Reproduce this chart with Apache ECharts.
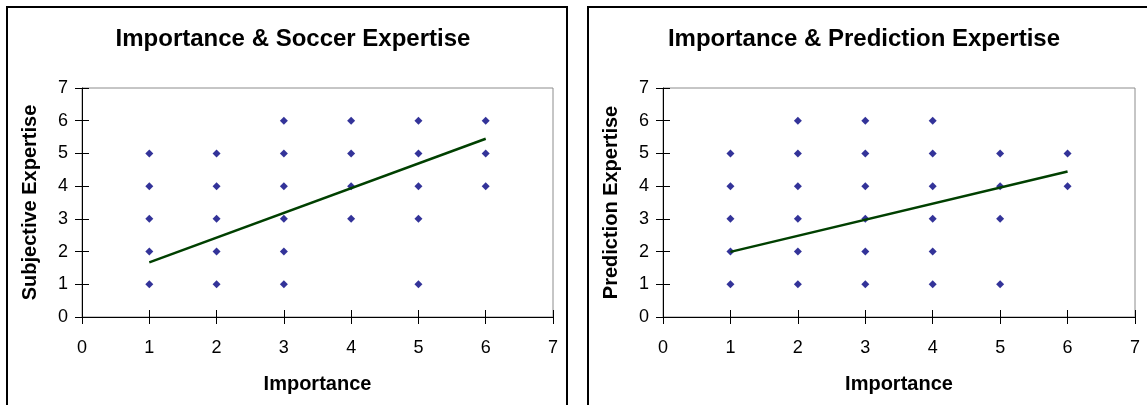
<!DOCTYPE html>
<html>
<head>
<meta charset="utf-8">
<script src="https://cdn.jsdelivr.net/npm/echarts@6/dist/echarts.min.js"></script>
<style>
  html, body { margin: 0; padding: 0; background: #fff; }
  #chart { width: 1147px; height: 405px; }
</style>
</head>
<body>
<div id="chart"></div>
<script>
// ---- Data ----
var titles = ['Importance & Soccer Expertise', 'Importance & Prediction Expertise'];
var xAxisName = 'Importance';
var yAxisNames = ['Subjective Expertise', 'Prediction Expertise'];
var axisTicks = [0, 1, 2, 3, 4, 5, 6, 7];

// Left panel: [importance, subjective expertise]
var soccerPoints = [
  [1, 1], [1, 2], [1, 3], [1, 4], [1, 5],
  [2, 1], [2, 2], [2, 3], [2, 4], [2, 5],
  [3, 1], [3, 2], [3, 3], [3, 4], [3, 5], [3, 6],
  [4, 3], [4, 4], [4, 5], [4, 6],
  [5, 1], [5, 3], [5, 4], [5, 5], [5, 6],
  [6, 4], [6, 5], [6, 6]
];
var soccerTrend = [[1, 1.67], [6, 5.45]];

// Right panel: [importance, prediction expertise]
var predictionPoints = [
  [1, 1], [1, 2], [1, 3], [1, 4], [1, 5],
  [2, 1], [2, 2], [2, 3], [2, 4], [2, 5], [2, 6],
  [3, 1], [3, 2], [3, 3], [3, 4], [3, 5], [3, 6],
  [4, 1], [4, 2], [4, 3], [4, 4], [4, 5], [4, 6],
  [5, 1], [5, 3], [5, 4], [5, 5],
  [6, 4], [6, 5]
];
var predictionTrend = [[1, 1.99], [6, 4.45]];

// ---- Chart ----
var FONT = 'Arial, "Liberation Sans", sans-serif';
var chart = echarts.init(document.getElementById('chart'), null, { renderer: 'canvas' });

var grids = [
  { left: 82, top: 88, width: 471, height: 229 },
  { left: 663, top: 88, width: 472, height: 229 }
];
var panelCenters = [288, 859];
var pointSets = [soccerPoints, predictionPoints];
var trendSets = [soccerTrend, predictionTrend];

var xAxes = [], yAxes = [], series = [], titleOpts = [];
var minV = axisTicks[0], maxV = axisTicks[axisTicks.length - 1];

grids.forEach(function (g, i) {
  g.show = true;
  g.borderColor = '#8c8c8c';
  g.borderWidth = 1;
  g.backgroundColor = '#fff';

  titleOpts.push({
    text: titles[i],
    left: panelCenters[i],
    top: 22,
    textAlign: 'center',
    textStyle: { fontFamily: FONT, fontWeight: 'bold', fontSize: 24, color: '#000' }
  });

  // main x axis (labels + outward ticks)
  xAxes.push({
    type: 'value', gridIndex: i, position: 'bottom', min: minV, max: maxV, interval: 1,
    name: xAxisName, nameLocation: 'middle', nameGap: 57,
    nameTextStyle: { fontFamily: FONT, fontWeight: 'bold', fontSize: 20, color: '#000' },
    axisLine: { show: true, onZero: false, lineStyle: { color: '#000', width: 1 } },
    axisTick: { show: true, length: 7, lineStyle: { color: '#000' } },
    axisLabel: { fontFamily: FONT, fontSize: 18, color: '#000', margin: 22 },
    splitLine: { show: false }
  });
  // companion x axis (inside ticks so they cross the axis line)
  xAxes.push({
    type: 'value', gridIndex: i, position: 'bottom', min: minV, max: maxV, interval: 1,
    axisLine: { show: false, onZero: false },
    axisTick: { show: true, inside: true, length: 7, lineStyle: { color: '#000' } },
    axisLabel: { show: false },
    splitLine: { show: false }
  });
  yAxes.push({
    type: 'value', gridIndex: i, position: 'left', min: minV, max: maxV, interval: 1,
    name: yAxisNames[i], nameLocation: 'middle', nameGap: 42, nameRotate: 90,
    nameTextStyle: { fontFamily: FONT, fontWeight: 'bold', fontSize: 20, color: '#000' },
    axisLine: { show: true, onZero: false, lineStyle: { color: '#000', width: 1 } },
    axisTick: { show: true, length: 7, lineStyle: { color: '#000' } },
    axisLabel: { fontFamily: FONT, fontSize: 18, color: '#000', margin: 14 },
    splitLine: { show: false }
  });
  yAxes.push({
    type: 'value', gridIndex: i, position: 'left', min: minV, max: maxV, interval: 1,
    axisLine: { show: false, onZero: false },
    axisTick: { show: true, inside: true, length: 7, lineStyle: { color: '#000' } },
    axisLabel: { show: false },
    splitLine: { show: false }
  });

  series.push({
    type: 'scatter', xAxisIndex: i * 2, yAxisIndex: i * 2,
    data: pointSets[i], symbol: 'diamond', symbolSize: 8,
    itemStyle: { color: '#000080' }, silent: true, z: 3
  });
  series.push({
    type: 'line', xAxisIndex: i * 2, yAxisIndex: i * 2,
    data: trendSets[i], symbol: 'none',
    lineStyle: { color: '#004000', width: 2.5 }, silent: true, z: 4
  });
});

chart.setOption({
  animation: false,
  backgroundColor: '#fff',
  title: titleOpts,
  grid: grids,
  xAxis: xAxes,
  yAxis: yAxes,
  series: series,
  graphic: [
    { type: 'rect', shape: { x: 7, y: 7, width: 560, height: 430 },
      style: { fill: 'none', stroke: '#000', lineWidth: 2 }, z: 100 },
    { type: 'rect', shape: { x: 588, y: 7, width: 600, height: 430 },
      style: { fill: 'none', stroke: '#000', lineWidth: 2 }, z: 100 }
  ]
});
</script>
</body>
</html>
